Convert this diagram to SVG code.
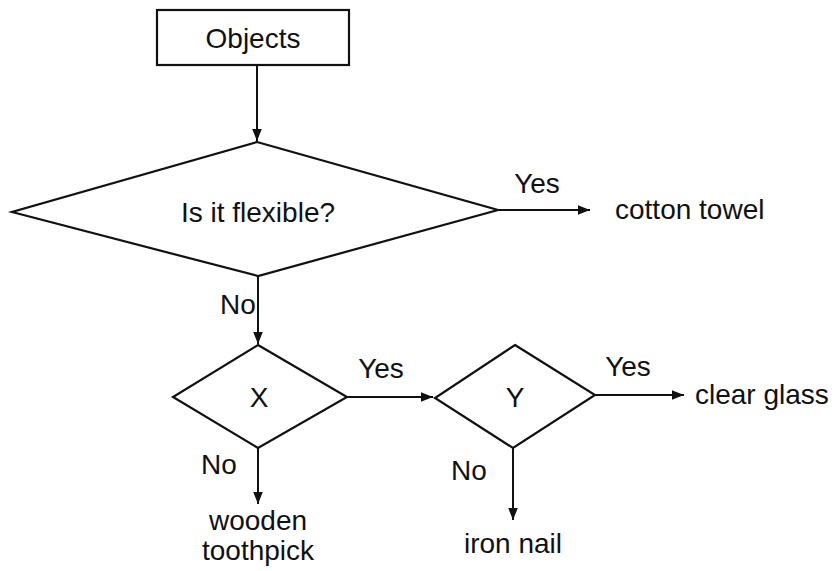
<svg xmlns="http://www.w3.org/2000/svg" width="840" height="571" viewBox="0 0 840 571">
<style>
.s{fill:none;stroke:#111;stroke-width:2}
.n{fill:#fff;stroke:#111;stroke-width:2.2}
text{font-family:"Liberation Sans",Arial,sans-serif;font-size:28px;fill:#111}
.c{text-anchor:middle}
</style>
<defs>
<marker id="a" viewBox="0 0 10 10" refX="10" refY="5" markerWidth="12" markerHeight="12" markerUnits="userSpaceOnUse" orient="auto">
<path d="M0,1 L10,5 L0,9 Z" fill="#111"/>
</marker>
</defs>
<rect width="840" height="571" fill="#fff"/>
<g id="connectors">
<line class="s" x1="257" y1="65" x2="257" y2="141" marker-end="url(#a)"/>
<line class="s" x1="498" y1="210" x2="590" y2="210" marker-end="url(#a)"/>
<line class="s" x1="258" y1="276" x2="258" y2="344" marker-end="url(#a)"/>
<line class="s" x1="347" y1="397" x2="433" y2="397" marker-end="url(#a)"/>
<line class="s" x1="595" y1="395" x2="684" y2="395" marker-end="url(#a)"/>
<line class="s" x1="258" y1="448" x2="258" y2="504" marker-end="url(#a)"/>
<line class="s" x1="513" y1="448" x2="513" y2="520" marker-end="url(#a)"/>
<text x="537" y="193" class="c">Yes</text>
<text x="220" y="314">No</text>
<text x="381" y="378" class="c">Yes</text>
<text x="628" y="376" class="c">Yes</text>
<text x="201" y="474">No</text>
<text x="451" y="480">No</text>
</g>
<g id="objects">
<rect class="n" x="157" y="10" width="192" height="55"/>
<text x="253" y="48" class="c">Objects</text>
</g>
<g id="flexible">
<polygon class="n" points="257,142 498,210 258,276 12,212"/>
<text x="258" y="222" class="c">Is it flexible?</text>
</g>
<g id="cotton-towel">
<text x="615" y="219">cotton towel</text>
</g>
<g id="x">
<polygon class="n" points="258,345 347,397 258,448 173,397"/>
<text x="259" y="407" class="c">X</text>
</g>
<g id="y">
<polygon class="n" points="515,345 595,395 513,448 435,398"/>
<text x="515" y="407" class="c">Y</text>
</g>
<g id="clear-glass">
<text x="695" y="404">clear glass</text>
</g>
<g id="wooden-toothpick">
<text x="258" y="530" class="c">wooden</text>
<text x="258" y="560" class="c">toothpick</text>
</g>
<g id="iron-nail">
<text x="513" y="553" class="c">iron nail</text>
</g>
</svg>
